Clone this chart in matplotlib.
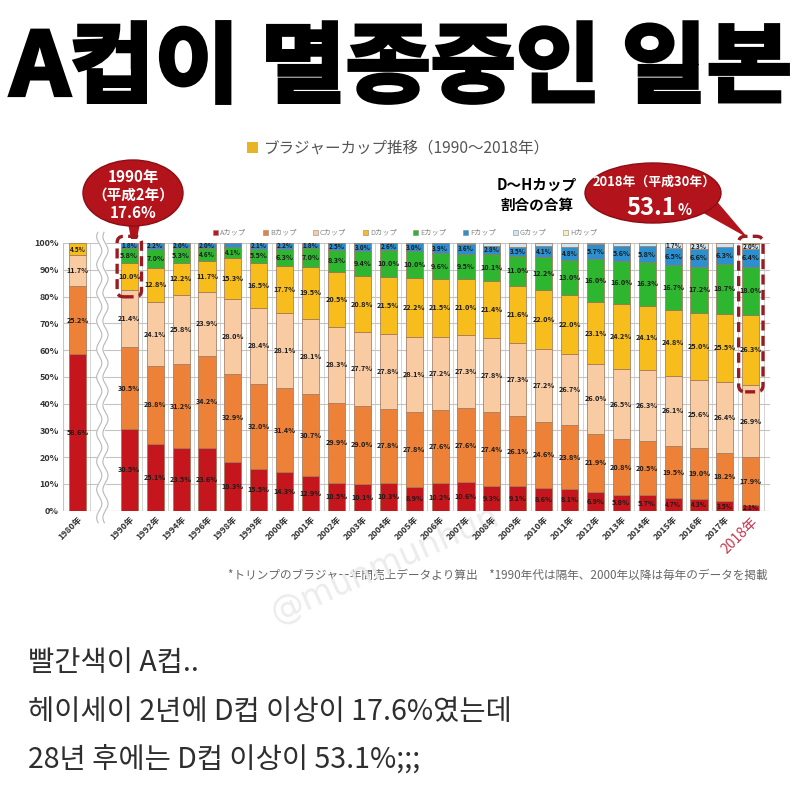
import numpy as np
import matplotlib
matplotlib.use('Agg')
import matplotlib.pyplot as plt
from matplotlib.textpath import TextPath
from matplotlib.font_manager import FontProperties
from matplotlib.patches import PathPatch, Ellipse, FancyBboxPatch, Polygon, Rectangle
from matplotlib.transforms import Affine2D

plt.rcParams['font.family'] = ['Noto Sans CJK JP', 'DejaVu Sans']

# ---- data (share of sales, %) ----
years = ['1980年', '1990年', '1992年', '1994年', '1996年', '1998年', '1999年',
         '2000年', '2001年', '2002年', '2003年', '2004年', '2005年', '2006年',
         '2007年', '2008年', '2009年', '2010年', '2011年', '2012年', '2013年',
         '2014年', '2015年', '2016年', '2017年', '2018年']
# 1980 is set apart from the rest by a break
pos = [0] + list(range(2, 27))

cup_a = [58.6, 30.5, 25.1, 23.5, 23.6, 18.3, 15.5, 14.3, 12.9, 10.5, 10.1, 10.3, 8.9,
         10.2, 10.6, 9.3, 9.1, 8.6, 8.1, 6.9, 5.8, 5.7, 4.7, 4.3, 3.5, 2.1]
cup_b = [25.2, 30.5, 28.8, 31.2, 34.2, 32.9, 32.0, 31.4, 30.7, 29.9, 29.0, 27.8, 27.8,
         27.6, 27.6, 27.4, 26.1, 24.6, 23.8, 21.9, 20.8, 20.5, 19.5, 19.0, 18.2, 17.9]
cup_c = [11.7, 21.4, 24.1, 25.8, 23.9, 28.0, 28.4, 28.1, 28.1, 28.3, 27.7, 27.8, 28.1,
         27.2, 27.3, 27.8, 27.3, 27.2, 26.7, 26.0, 26.5, 26.3, 26.1, 25.6, 26.4, 26.9]
cup_d = [4.5, 10.0, 12.8, 12.2, 11.7, 15.3, 16.5, 17.7, 19.5, 20.5, 20.8, 21.5, 22.2,
         21.5, 21.0, 21.4, 21.6, 22.0, 22.0, 23.1, 24.2, 24.1, 24.8, 25.0, 25.5, 26.3]
cup_e = [0.0, 5.8, 7.0, 5.3, 4.6, 4.1, 5.5, 6.3, 7.0, 8.3, 9.4, 10.0, 10.0,
         9.6, 9.5, 10.1, 11.0, 12.2, 13.0, 16.0, 16.0, 16.3, 16.7, 17.2, 18.7, 18.0]
cup_f = [0.0, 1.8, 2.2, 2.0, 2.0, 1.4, 2.1, 2.2, 1.8, 2.5, 3.0, 2.6, 3.0,
         3.9, 3.6, 2.8, 3.5, 4.1, 4.8, 5.7, 5.6, 5.8, 6.5, 6.6, 6.3, 6.4]
cup_g = [0.0, 0.0, 0.0, 0.0, 0.0, 0.0, 0.0, 0.0, 0.0, 0.0, 0.0, 0.0, 0.0,
         0.0, 0.4, 1.2, 1.4, 1.3, 1.6, 0.4, 1.1, 1.3, 1.7, 2.3, 1.4, 2.0]
cup_h = [0.0] * 25 + [0.4]

cup_names = ['Aカップ', 'Bカップ', 'Cカップ', 'Dカップ', 'Eカップ', 'Fカップ', 'Gカップ', 'Hカップ']
cups = [cup_a, cup_b, cup_c, cup_d, cup_e, cup_f, cup_g, cup_h]
colors = ['#c4161c', '#ec8137', '#f9cba3', '#f6bd1d', '#2fb630', '#2a90cf', '#cde6f6', '#fbf0b8']

fig = plt.figure(figsize=(8, 7.88), dpi=100)

# pixel-coordinate layer for the title, callouts and captions
bg = fig.add_axes([0, 0, 1, 1])
bg.set_xlim(0, 800)
bg.set_ylim(788, 0)
bg.axis('off')

# big headline, fitted to its box and thickened a little with a stroke
fp = FontProperties(family='Noto Sans CJK KR', weight='black')
tp = TextPath((0, 0), 'A컵이 멸종중인 일본', size=100, prop=fp)
ext = tp.get_extents()
tr = Affine2D().translate(-ext.x0, -ext.y0).scale(778 / ext.width, -81 / ext.height).translate(10, 103)
bg.add_patch(PathPatch(tr.transform_path(tp), fc='black', ec='black', lw=2.8))

# chart title
bg.add_patch(Rectangle((247, 142), 11, 11, fc='#e8b425', ec='none'))
bg.text(264, 148, 'ブラジャーカップ推移（1990〜2018年）', fontsize=11.2, color='#555555', va='center')

# legend row
for i, (name, col) in enumerate(zip(cup_names, colors)):
    x0 = 213 + i * 50
    bg.add_patch(Rectangle((x0, 229.5), 5, 5, fc=col, ec='#888888', lw=0.4))
    bg.text(x0 + 7, 232, name, fontsize=5.2, color='#888888', va='center')

# callouts
red = '#b3131b'
bg.add_patch(Polygon([(127, 218), (141, 218), (137, 239), (131, 239)], fc=red, ec='none'))
bg.add_patch(Ellipse((133, 193), 100, 66, fc=red, ec='#8c0e14', lw=1))
bg.text(133, 177, '1990年', fontsize=11, color='white', weight='bold', ha='center', va='center')
bg.text(133, 195, '（平成2年）', fontsize=10.5, color='white', weight='bold', ha='center', va='center')
bg.text(133, 213, '17.6%', fontsize=11, color='white', weight='bold', ha='center', va='center')

bg.add_patch(Polygon([(698, 210), (714, 198), (748, 238)], fc=red, ec='none'))
bg.add_patch(Ellipse((653, 193), 136, 60, fc=red, ec='#8c0e14', lw=1))
bg.text(654, 182, '2018年（平成30年）', fontsize=9.3, color='white', weight='bold', ha='center', va='center')
bg.text(676, 215, '53.1', fontsize=17, color='white', weight='bold', ha='right', va='baseline')
bg.text(677, 215, '%', fontsize=10.5, color='white', weight='bold', ha='left', va='baseline')

bg.text(537, 185, 'D〜Hカップ', fontsize=10.5, weight='bold', ha='center', va='center')
bg.text(537, 205, '割合の合算', fontsize=10.5, weight='bold', ha='center', va='center')

# footnote + watermark
bg.text(768, 575, '*トリンプのブラジャー年間売上データより算出　*1990年代は隔年、2000年以降は毎年のデータを掲載',
        fontsize=8.4, color='#666666', ha='right', va='center')
bg.text(385, 565, '@munmunhun', fontsize=24, color='#ececec', rotation=24,
        ha='center', va='center', family='DejaVu Sans', zorder=10)

# Korean caption
kr = ['Noto Sans CJK KR', 'DejaVu Sans']
bg.text(28, 663, '빨간색이 A컵..', fontsize=20.5, color='#2e2e2e', va='center', family=kr)
bg.text(28, 712, '헤이세이 2년에 D컵 이상이 17.6%였는데', fontsize=20.5, color='#2e2e2e', va='center', family=kr)
bg.text(28, 760, '28년 후에는 D컵 이상이 53.1%;;;', fontsize=20.5, color='#2e2e2e', va='center', family=kr)

# ---- stacked bar chart ----
ax = fig.add_axes([63 / 800, 1 - 510.7 / 788, 707 / 800, 267.7 / 788])
ax.set_facecolor('none')
xs = np.array(pos, dtype=float)
bottoms = np.zeros(len(xs))
for vals, col in zip(cups, colors):
    v = np.array(vals)
    m = v > 0
    ax.bar(xs[m], v[m], width=0.66, bottom=bottoms[m], color=col,
           edgecolor='#9a7256', linewidth=0.5, zorder=3)
    for x, b, h in zip(xs, bottoms, v):
        if h >= 1.7:
            ax.text(x, b + h / 2, f'{h:.1f}%', fontsize=5.2 if h >= 5 else 4.6,
                    weight='bold', color='#1a1a1a', ha='center', va='center', zorder=4)
    bottoms += v

ax.set_xlim(-0.56, 26.74)
ax.set_ylim(0, 100)
ax.set_yticks(range(0, 101, 10))
ax.set_yticklabels([f'{t}%' for t in range(0, 101, 10)], fontsize=6.5, weight='bold', color='#333333')
ax.yaxis.grid(True, color='#c4c4c4', lw=0.8, zorder=0)
ax.vlines(xs[1:] + 0.5, 0, 100, color='#d4d4d4', lw=0.7, zorder=0)
ax.vlines([0.5], 0, 100, color='#d4d4d4', lw=0.7, zorder=0)
for s in ax.spines.values():
    s.set_visible(False)
ax.axhline(0, color='#b0b0b0', lw=0.8, zorder=2)
ax.axvline(-0.56, color='#c4c4c4', lw=0.8, zorder=2)
ax.tick_params(length=0, pad=3)
ax.set_xticks(xs)
ax.set_xticklabels(years, rotation=45, ha='right', rotation_mode='anchor',
                   fontsize=6.3, weight='bold', color='#333333')
last = ax.get_xticklabels()[-1]
last.set_color('#c8344c')
last.set_fontsize(10)
last.set_fontweight('normal')

# break between 1980 and 1990
wy = np.linspace(-4.5, 104, 300)
wave = 0.1 * np.sin(wy / 10.5 * 2 * np.pi)
ax.fill_betweenx(wy, 0.84 + wave, 1.08 + wave, color='white', zorder=2, clip_on=False)
ax.plot(0.84 + wave, wy, color='#b8b8b8', lw=0.8, zorder=2, clip_on=False)
ax.plot(1.08 + wave, wy, color='#b8b8b8', lw=0.8, zorder=2, clip_on=False)

# dashed boxes around the D+ share of 1990 and 2018
for i in (1, len(xs) - 1):
    base = cup_a[i] + cup_b[i] + cup_c[i]
    ax.add_patch(FancyBboxPatch((xs[i] - 0.47, base - 2.5), 0.94, 105 - base,
                                boxstyle='round,pad=0,rounding_size=0.25', mutation_aspect=9.7,
                                fill=False, ec='#9b1b22', lw=2.4, ls=(0, (3, 1.6)),
                                zorder=6, clip_on=False))

fig.savefig('out.png', dpi=100, facecolor='white')
